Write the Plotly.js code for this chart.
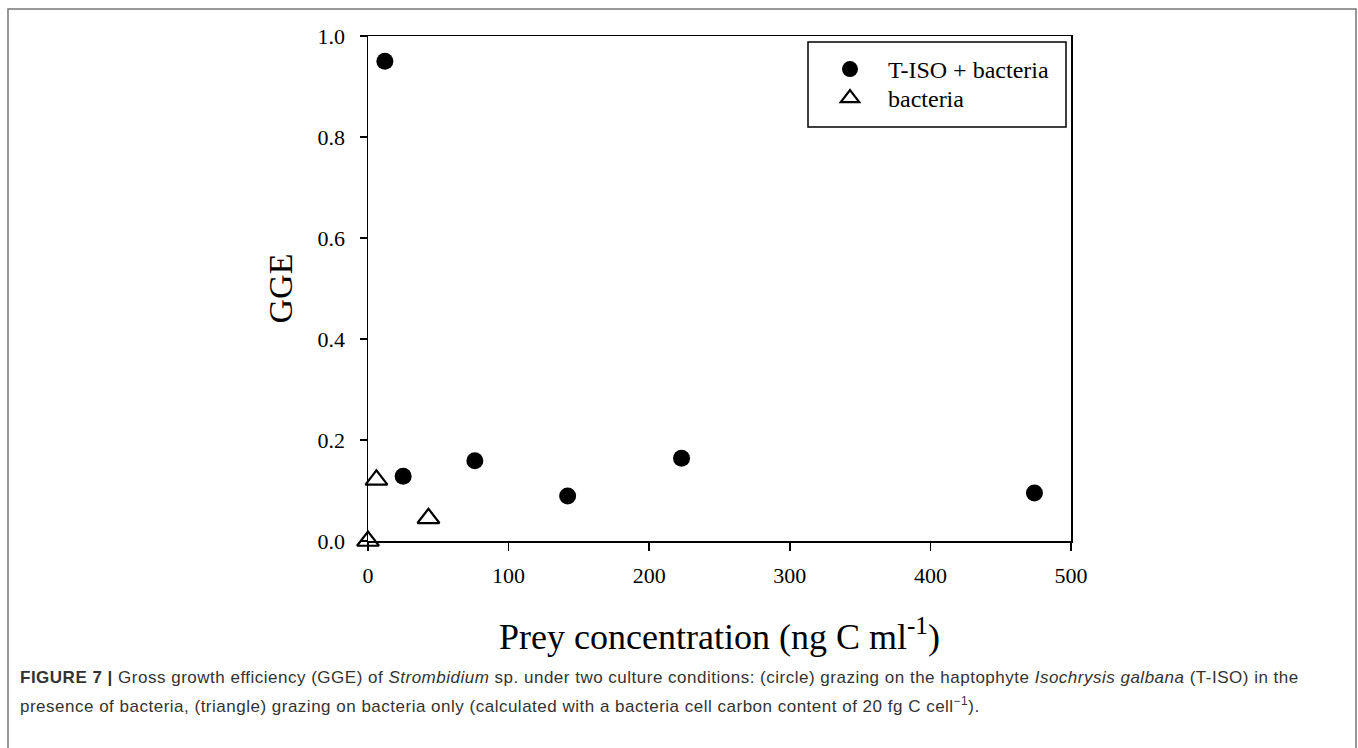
<!DOCTYPE html>
<html>
<head>
<meta charset="utf-8">
<script src="https://cdn.plot.ly/plotly-3.0.1.min.js"></script>
<style>
html,body{margin:0;padding:0;background:#fff;}
#chart{width:1358px;height:748px;}
.annotation-text{letter-spacing:0.5px;}
</style>
</head>
<body>
<div id="chart"></div>
<script>
// Data
const tisoName = "T-ISO + bacteria";
const tisoX = [12, 25, 76, 142, 223, 474];
const tisoY = [0.95, 0.128, 0.159, 0.089, 0.164, 0.095];

const bactName = "bacteria";
const bactX = [0, 6, 43];
const bactY = [0.0, 0.121, 0.045];

const xTicks = [0, 100, 200, 300, 400, 500];
const yTicks = [0.0, 0.2, 0.4, 0.6, 0.8, 1.0];
const yTickText = ["0.0", "0.2", "0.4", "0.6", "0.8", "1.0"];

const xTitle = "Prey concentration (ng C ml<sup>-1</sup>)";
const yTitle = "GGE";
const captionLine1 = "<b>FIGURE 7 |</b> Gross growth efficiency (GGE) of <i>Strombidium</i> sp. under two culture conditions: (circle) grazing on the haptophyte <i>Isochrysis galbana</i> (T-ISO) in the";
const captionLine2 = "presence of bacteria, (triangle) grazing on bacteria only (calculated with a bacteria cell carbon content of 20 fg C cell<sup>\u22121</sup>).";

const serif = "Liberation Serif, Times New Roman, serif";
const sans = "Liberation Sans, Arial, Helvetica, sans-serif";

// Plot area in pixels
const L = 368, R = 1071, T = 36, B = 541, W = 1358, H = 748;
const pw = R - L, ph = B - T;
const px = v => (v - L) / pw;
const py = v => (B - v) / ph;

const traces = [
  {
    x: tisoX, y: tisoY, name: tisoName, type: "scatter", mode: "markers",
    cliponaxis: false, legend: "legend",
    marker: {symbol: "circle", size: 17, color: "#000"}
  },
  {
    x: bactX, y: bactY, name: bactName, type: "scatter", mode: "markers",
    cliponaxis: false, legend: "legend2",
    marker: {symbol: "triangle-up-open", size: 19, color: "#000", line: {width: 2.2, color: "#000"}}
  }
];

const legendCommon = {
  xanchor: "left", yanchor: "top",
  bgcolor: "rgba(0,0,0,0)", borderwidth: 0,
  itemwidth: 66,
  font: {family: serif, size: 24, color: "#000"},
  tracegroupgap: 0
};

const layout = {
  width: W, height: H,
  margin: {l: L, r: W - R, t: T, b: H - B, pad: 0},
  paper_bgcolor: "#fff", plot_bgcolor: "#fff",
  showlegend: true,
  legend: Object.assign({x: px(812), y: py(47)}, legendCommon),
  legend2: Object.assign({x: px(812), y: py(76)}, legendCommon),
  xaxis: {
    range: [0, 500], tickvals: xTicks, ticks: "outside", ticklen: 8, tickwidth: 1.5,
    tickcolor: "#000", showline: true, linecolor: "#000", linewidth: 1.5, mirror: true,
    showgrid: false, zeroline: false, fixedrange: true,
    ticklabelstandoff: 6,
    tickfont: {family: serif, size: 22, color: "#000"},
    title: {text: xTitle, font: {family: serif, size: 36, color: "#000"}, standoff: 37}
  },
  yaxis: {
    range: [0, 1], tickvals: yTicks, ticktext: yTickText, ticks: "outside", ticklen: 7, tickwidth: 1.5,
    tickcolor: "#000", showline: true, linecolor: "#000", linewidth: 1.5, mirror: true,
    showgrid: false, zeroline: false, fixedrange: true,
    ticklabelstandoff: 10,
    tickfont: {family: serif, size: 22, color: "#000"},
    title: {text: yTitle, font: {family: serif, size: 34, color: "#000"}, standoff: 14}
  },
  shapes: [
    // outer figure border
    {type: "rect", xref: "paper", yref: "paper", x0: px(8), x1: px(1356), y0: py(760), y1: py(9),
     line: {color: "#777", width: 1.5}, fillcolor: "rgba(0,0,0,0)", layer: "below"},
    // legend box
    {type: "rect", xref: "paper", yref: "paper", x0: px(808), x1: px(1066), y0: py(127), y1: py(42),
     line: {color: "#000", width: 1.5}, fillcolor: "rgba(0,0,0,0)"}
  ],
  annotations: [
    {text: captionLine1, xref: "paper", yref: "paper", x: px(18), y: py(677), xanchor: "left", yanchor: "middle",
     showarrow: false, align: "left", font: {family: sans, size: 17, color: "#333"}},
    {text: captionLine2, xref: "paper", yref: "paper", x: px(18), y: py(705), xanchor: "left", yanchor: "middle",
     showarrow: false, align: "left", font: {family: sans, size: 17, color: "#333"}}
  ]
};

Plotly.newPlot("chart", traces, layout, {displayModeBar: false, staticPlot: true});
</script>
</body>
</html>
